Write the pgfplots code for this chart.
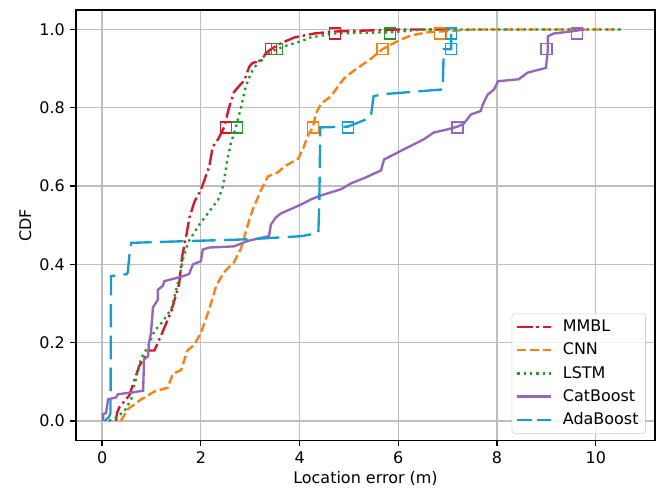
\documentclass[border=0pt]{standalone}
\usepackage{fontspec}
\setmainfont{DejaVu Sans}
\usepackage{pgfplots}
\pgfplotsset{compat=1.18}

\definecolor{cmmbl}{RGB}{220,20,40}
\definecolor{ccnn}{RGB}{255,127,14}
\definecolor{clstm}{RGB}{30,155,40}
\definecolor{ccat}{RGB}{148,103,189}
\definecolor{cada}{RGB}{23,158,208}
\definecolor{gridgray}{RGB}{190,190,190}

\begin{document}
\fontsize{11.5pt}{13.8pt}\selectfont
\begin{tikzpicture}
\begin{axis}[
    scale only axis,
    width=417pt, height=310pt,
    xmin=-0.53, xmax=11.2,
    ymin=-0.05, ymax=1.05,
    xtick={0,2,4,6,8,10},
    ytick={0,0.2,0.4,0.6,0.8,1.0},
    yticklabel style={/pgf/number format/.cd, fixed, fixed zerofill, precision=1},
    /pgf/number format/assume math mode=true,
    xtick pos=bottom, ytick pos=left,
    tick align=outside,
    major tick length=4pt,
    every tick/.style={black, line width=0.9pt},
    axis line style={line width=0.9pt},
    grid=major,
    major grid style={gridgray, line width=0.9pt},
    xlabel={Location error (m)},
    ylabel={CDF},
    xlabel style={yshift=2pt},
    ylabel style={yshift=-2pt},
    legend style={at={(0.984,0.016)}, anchor=south east, draw=gridgray!70,
        rounded corners=2pt, fill=white, fill opacity=0.8, text opacity=1,
        row sep=2.4pt, inner xsep=3pt, inner ysep=2.5pt,
        /tikz/every odd column/.append style={column sep=6pt}},
    legend cell align=left,
    legend image code/.code={\draw[#1] (0pt,0pt) -- (24pt,0pt);},
    every axis plot/.append style={line width=1.7pt},
]
% MMBL
\addplot[cmmbl, dash pattern=on 11pt off 2.8pt on 1.7pt off 2.8pt] coordinates {
(0.28,0) (0.30,0.02) (0.35,0.035) (0.55,0.065) (0.75,0.14) (0.95,0.18) (1.06,0.18)
(1.2,0.22) (1.4,0.28) (1.56,0.35) (1.62,0.42) (1.70,0.47) (1.77,0.52) (1.87,0.56)
(2.0,0.59) (2.17,0.65) (2.24,0.70) (2.35,0.72) (2.47,0.75) (2.57,0.80) (2.67,0.84)
(2.77,0.855) (2.88,0.87) (2.98,0.905) (3.05,0.915) (3.22,0.92) (3.32,0.94) (3.42,0.95)
(3.62,0.965) (3.9,0.98) (4.3,0.99) (4.7,0.995) (6.0,1.0) (7.0,1.0)};
\addlegendentry{MMBL}
% CNN
\addplot[ccnn, dash pattern=on 6.4pt off 2.8pt] coordinates {
(0.38,0) (0.52,0.03) (0.79,0.055) (1.06,0.075) (1.33,0.085) (1.43,0.12) (1.6,0.13)
(1.73,0.18) (1.87,0.195) (2.0,0.225) (2.17,0.285) (2.31,0.345) (2.47,0.38) (2.67,0.405)
(2.81,0.44) (2.95,0.50) (3.05,0.54) (3.22,0.59) (3.36,0.625) (3.56,0.635) (3.69,0.65)
(3.97,0.67) (4.07,0.695) (4.17,0.73) (4.27,0.75) (4.33,0.785) (4.43,0.81) (4.64,0.83)
(4.78,0.855) (4.9,0.875) (5.1,0.895) (5.44,0.925) (5.68,0.95) (5.98,0.97) (6.25,0.985)
(6.6,0.993) (6.85,0.995) (7.5,1.0) (10.5,1.0)};
\addlegendentry{CNN}
% LSTM
\addplot[clstm, dash pattern=on 1.7pt off 2.85pt] coordinates {
(0.14,0) (0.30,0.01) (0.45,0.025) (0.59,0.055) (0.65,0.09) (0.79,0.16) (0.93,0.19)
(1.06,0.23) (1.2,0.25) (1.4,0.285) (1.5,0.335) (1.57,0.37) (1.63,0.41) (1.70,0.44)
(1.76,0.46) (1.96,0.50) (2.14,0.53) (2.35,0.565) (2.45,0.60) (2.54,0.67) (2.61,0.71)
(2.71,0.75) (2.81,0.80) (2.91,0.855) (3.02,0.89) (3.18,0.92) (3.36,0.94) (3.54,0.95)
(3.76,0.96) (4.03,0.97) (4.23,0.98) (4.7,0.99) (5.83,0.993) (6.5,1.0) (10.55,1.0)};
\addlegendentry{LSTM}
% CatBoost
\addplot[ccat] coordinates {
(0.02,0) (0.02,0.017) (0.08,0.02) (0.12,0.055) (0.28,0.06) (0.32,0.068) (0.83,0.077)
(0.85,0.157) (0.93,0.165) (0.95,0.2) (0.99,0.225) (1.03,0.29) (1.13,0.31) (1.13,0.335)
(1.23,0.345) (1.26,0.357) (1.44,0.363) (1.64,0.37) (1.76,0.375) (1.84,0.40) (2.0,0.408)
(2.04,0.438) (2.17,0.443) (2.67,0.446) (2.95,0.46) (3.38,0.472) (3.42,0.502) (3.52,0.52)
(3.62,0.53) (4.03,0.553) (4.23,0.566) (4.43,0.576) (4.84,0.592) (5.04,0.607) (5.3,0.62)
(5.65,0.64) (5.71,0.668) (5.85,0.677) (6.05,0.69) (6.32,0.707) (6.52,0.72) (6.72,0.737)
(7.0,0.745) (7.2,0.752) (7.33,0.76) (7.47,0.783) (7.67,0.792) (7.71,0.808) (7.81,0.834)
(7.94,0.847) (8.02,0.868) (8.44,0.873) (8.62,0.89) (8.99,0.902) (9.03,0.95) (9.03,0.983)
(9.15,0.99) (9.49,0.995) (9.76,1.0)};
\addlegendentry{CatBoost}
% AdaBoost
\addplot[cada, dash pattern=on 17pt off 6pt,
    legend image code/.code={\draw[cada, line width=1.7pt, dash pattern=on 10.8pt off 3.6pt] (0pt,0pt) -- (24pt,0pt);}] coordinates {
(0.05,0) (0.14,0.01) (0.17,0.02) (0.18,0.37) (0.5,0.375) (0.52,0.38) (0.55,0.42)
(0.59,0.455) (1.87,0.46) (2.95,0.464) (4.03,0.472) (4.38,0.48) (4.4,0.565) (4.42,0.75)
(4.98,0.752) (5.44,0.775) (5.5,0.83) (5.71,0.835) (6.9,0.847) (6.92,0.95) (7.07,0.95)
(7.07,0.995)};
\addlegendentry{AdaBoost}
% percentile markers
\addplot[only marks, mark=square, mark size=4pt, cmmbl, forget plot, mark options={line width=1.1pt, solid}] coordinates {(2.51,0.75) (3.42,0.95) (4.72,0.99)};
\addplot[only marks, mark=square, mark size=4pt, clstm, forget plot, mark options={line width=1.1pt, solid}] coordinates {(2.73,0.75) (3.54,0.95) (5.83,0.99)};
\addplot[only marks, mark=square, mark size=4pt, ccnn, forget plot, mark options={line width=1.1pt, solid}] coordinates {(4.27,0.75) (5.68,0.95) (6.85,0.99)};
\addplot[only marks, mark=square, mark size=4pt, cada, forget plot, mark options={line width=1.1pt, solid}] coordinates {(4.98,0.75) (7.07,0.95) (7.07,0.99)};
\addplot[only marks, mark=square, mark size=4pt, ccat, forget plot, mark options={line width=1.1pt, solid}] coordinates {(7.2,0.75) (9.0,0.95) (9.62,0.99)};
\end{axis}
\path (current axis.south west) ++(-54.7pt,-38.2pt) coordinate (bbl);
\path (current axis.north east) ++(7.9pt,7.2pt) coordinate (btr);
\useasboundingbox (bbl) rectangle (btr);
\end{tikzpicture}
\end{document}
